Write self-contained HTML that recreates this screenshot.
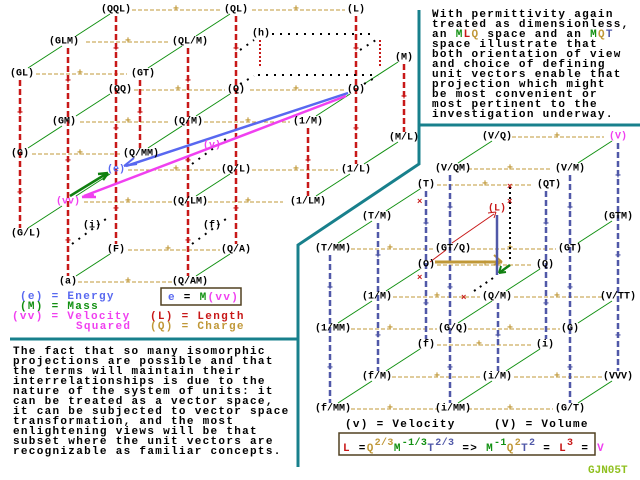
<!DOCTYPE html>
<html><head><meta charset="utf-8"><style>
html,body{margin:0;padding:0;background:#fff;width:640px;height:480px;overflow:hidden}
svg{display:block}
text{font-family:"Liberation Mono",monospace;font-weight:bold}
.n{font-size:10px;fill:#000;text-anchor:middle;dominant-baseline:central}
.p{font-size:11px;fill:#000;letter-spacing:1.3px}
.sup{font-size:10px;letter-spacing:0.4px}
.tan{stroke:#c09838;stroke-width:1;stroke-dasharray:4 2;fill:none}
.red{stroke:#c81818;stroke-width:2.5;stroke-dasharray:6 3;fill:none}
.blu{stroke:#5058a8;stroke-width:2.5;stroke-dasharray:6 3;fill:none}
.grn{stroke:#109010;stroke-width:1;fill:none}
.dot{stroke:#000;stroke-width:2;stroke-dasharray:2 6;fill:none}
.teal{stroke:#18808c;stroke-width:3;fill:none}
.pr{fill:#c81818;font-size:10px;text-anchor:middle;dominant-baseline:central}
.pt{fill:#c09838;font-size:10px;text-anchor:middle;dominant-baseline:central}
.pb{fill:#5058a8;font-size:10px;text-anchor:middle;dominant-baseline:central}
</style></head><body>
<svg width="640" height="480" viewBox="0 0 640 480">
<polyline class="teal" points="419,10 419,125 640,125"/>
<polyline class="teal" points="419,125 419,164 298,245 298,467"/>
<line class="teal" x1="10" y1="339" x2="298" y2="339"/>

<g class="tan">
<line x1="132" y1="10" x2="220" y2="10"/><line x1="252" y1="10" x2="345" y2="10"/>
<line x1="86" y1="42" x2="170" y2="42"/>
<line x1="36" y1="74" x2="127" y2="74"/>
<line x1="134" y1="90" x2="225" y2="90"/><line x1="250" y1="90" x2="345" y2="90"/>
<line x1="80" y1="122" x2="170" y2="122"/><line x1="204" y1="122" x2="290" y2="122"/>
<line x1="32" y1="154" x2="122" y2="154"/>
<line x1="128" y1="170" x2="220" y2="170"/><line x1="252" y1="170" x2="338" y2="170"/>
<line x1="84" y1="202" x2="172" y2="202"/><line x1="208" y1="202" x2="283" y2="202"/>
<line x1="128" y1="250" x2="220" y2="250"/>
<line x1="78" y1="282" x2="172" y2="282"/>
</g>
<g class="pt">
<text x="176" y="10">+</text><text x="296" y="10">+</text><text x="128" y="42">+</text>
<text x="80" y="74">+</text><text x="178" y="90">+</text><text x="296" y="90">+</text>
<text x="128" y="122">+</text><text x="248" y="122">+</text><text x="80" y="154">+</text>
<text x="176" y="170">+</text><text x="296" y="170">+</text><text x="128" y="202">+</text>
<text x="248" y="202">+</text><text x="168" y="250">+</text><text x="128" y="282">+</text>
</g>
<g class="red">
<line x1="20" y1="80" x2="20" y2="228"/>
<line x1="68" y1="48" x2="68" y2="276"/>
<line x1="116" y1="16" x2="116" y2="244"/>
<line x1="140" y1="80" x2="140" y2="148"/>
<line x1="188" y1="48" x2="188" y2="276"/>
<line x1="236" y1="16" x2="236" y2="244"/>
<line x1="308" y1="128" x2="308" y2="196"/>
<line x1="356" y1="16" x2="356" y2="164"/>
<line x1="404" y1="64" x2="404" y2="132"/>
</g>
<g class="pr">
<text x="20" y="114">+</text><text x="20" y="194">+</text>
<text x="68" y="82">+</text><text x="68" y="162">+</text><text x="68" y="242">+</text>
<text x="116" y="50">+</text><text x="116" y="130">+</text><text x="116" y="210">+</text>
<text x="140" y="114">+</text>
<text x="188" y="82">+</text><text x="188" y="162">+</text><text x="188" y="242">+</text>
<text x="236" y="50">+</text><text x="236" y="210">+</text>
<text x="308" y="162">+</text><text x="356" y="50">+</text><text x="356" y="130">+</text>
<text x="404" y="98">+</text>
</g>
<g class="grn">
<line x1="28" y1="68" x2="62" y2="46"/><line x1="76" y1="36" x2="110" y2="14"/>
<line x1="28" y1="148" x2="62" y2="126"/><line x1="76" y1="116" x2="110" y2="94"/>
<line x1="28" y1="228" x2="62" y2="206"/><line x1="76" y1="196" x2="110" y2="174"/>
<line x1="76" y1="276" x2="110" y2="254"/>
<line x1="148" y1="68" x2="182" y2="46"/><line x1="196" y1="36" x2="230" y2="14"/>
<line x1="148" y1="148" x2="182" y2="126"/><line x1="196" y1="116" x2="230" y2="94"/>
<line x1="196" y1="196" x2="230" y2="174"/><line x1="196" y1="276" x2="230" y2="254"/>
<line x1="316" y1="116" x2="350" y2="94"/><line x1="316" y1="196" x2="350" y2="174"/>
<line x1="364" y1="84" x2="398" y2="62"/><line x1="364" y1="164" x2="398" y2="142"/>
</g>
<g class="dot">
<line x1="272" y1="34" x2="376" y2="34"/><line x1="258" y1="75" x2="376" y2="75"/>
<line x1="240" y1="50" x2="254" y2="40"/><line x1="360" y1="50" x2="376" y2="40"/>
<line x1="240" y1="84" x2="254" y2="76"/><line x1="364" y1="84" x2="378" y2="76"/>
<line x1="72" y1="244" x2="110" y2="216"/><line x1="192" y1="244" x2="230" y2="216"/>
<line x1="192" y1="164" x2="230" y2="136"/>
</g>
<g stroke="#c81818" stroke-width="2" stroke-dasharray="2 2">
<line x1="260" y1="40" x2="260" y2="68"/><line x1="380" y1="40" x2="380" y2="68"/>
</g>
<polyline points="348,93 126,166" stroke="#5868f0" stroke-width="2.5" fill="none"/>
<path d="M124,166 l10,-8 M124,166 l13,-2" stroke="#5868f0" stroke-width="2" fill="none"/>
<line x1="346" y1="96" x2="84" y2="196" stroke="#f040f0" stroke-width="2.5"/>
<path d="M82,197 l12,-2 M82,197 l14,0" stroke="#f040f0" stroke-width="2.5" fill="none"/>
<line x1="70" y1="196" x2="106" y2="174" stroke="#108010" stroke-width="2.5"/>
<path d="M108,173 l-10,1 M108,173 l-5,7" stroke="#108010" stroke-width="2.5" fill="none"/>

<g class="n">
<text x="116" y="10">(QQL)</text><text x="236" y="10">(QL)</text><text x="356" y="10">(L)</text>
<text x="64" y="42">(GLM)</text><text x="190" y="42">(QL/M)</text>
<text x="22" y="74">(GL)</text><text x="143" y="74">(GT)</text>
<text x="120" y="90">(QQ)</text><text x="236" y="90">(Q)</text><text x="356" y="90">(O)</text>
<text x="64" y="122">(GM)</text><text x="188" y="122">(Q/M)</text><text x="308" y="122">(1/M)</text>
<text x="20" y="154">(G)</text><text x="141" y="154">(Q/MM)</text>
<text x="236" y="170">(Q/L)</text><text x="356" y="170">(1/L)</text>
<text x="190" y="202">(Q/LM)</text><text x="308" y="202">(1/LM)</text>
<text x="26" y="234">(G/L)</text>
<text x="116" y="250">(F)</text><text x="236" y="250">(Q/A)</text>
<text x="68" y="282">(a)</text><text x="190" y="282">(Q/AM)</text>
<text x="404" y="58">(M)</text><text x="404" y="138">(M/L)</text>
<text x="261" y="34">(h)</text><text x="92" y="226">(i)</text><text x="212" y="226">(f)</text>
<text x="116" y="170" style="fill:#5868f0">(e)</text>
<text x="68" y="202" style="fill:#f040f0">(vv)</text>
<text x="212" y="146" style="fill:#f040f0">(v)</text>
</g>

<g class="p">
<text x="20" y="299" fill="#5868f0">(e) = Energy</text>
<text x="20" y="309" fill="#109010">(M) = Mass</text>
<text x="12" y="319" fill="#f040f0">(vv) = Velocity</text>
<text x="76" y="329" fill="#f040f0">Squared</text>
<text x="150" y="319" fill="#c81818">(L) = Length</text>
<text x="150" y="329" fill="#c09838">(Q) = Charge</text>
</g>
<rect x="161" y="288" width="80" height="17" fill="none" stroke="#504020" stroke-width="1.5"/>
<text class="p" x="168" y="300"><tspan fill="#5868f0">e</tspan> = <tspan fill="#109010">M</tspan><tspan fill="#f040f0">(vv)</tspan></text>

<g class="p">
<text x="13" y="354">The fact that so many isomorphic</text>
<text x="13" y="364">projections are possible and that</text>
<text x="13" y="374">the terms will maintain their</text>
<text x="13" y="384">interrelationships is due to the</text>
<text x="13" y="394">nature of the system of units: it</text>
<text x="13" y="404">can be treated as a vector space,</text>
<text x="13" y="414">it can be subjected to vector space</text>
<text x="13" y="424">transformation, and the most</text>
<text x="13" y="434">enlightening views will be that</text>
<text x="13" y="444">subset where the unit vectors are</text>
<text x="13" y="454">recognizable as familiar concepts.</text>
</g>
<g class="p">
<text x="432" y="17">With permittivity again</text>
<text x="432" y="27">treated as dimensionless,</text>
<text x="432" y="37">an <tspan fill="#109010">M</tspan><tspan fill="#c81818">L</tspan><tspan fill="#c09838">Q</tspan> space and an <tspan fill="#109010">M</tspan><tspan fill="#c09838">Q</tspan><tspan fill="#5058a8">T</tspan></text>
<text x="432" y="47">space illustrate that</text>
<text x="432" y="57">both orientation of view</text>
<text x="432" y="67">and choice of defining</text>
<text x="432" y="77">unit vectors enable that</text>
<text x="432" y="87">projection which might</text>
<text x="432" y="97">be most convenient or</text>
<text x="432" y="107">most pertinent to the</text>
<text x="432" y="117">investigation underway.</text>
</g>

<g class="tan">
<line x1="512" y1="137" x2="604" y2="137"/>
<line x1="468" y1="169" x2="552" y2="169"/>
<line x1="437" y1="185" x2="532" y2="185"/>
<line x1="351" y1="249" x2="434" y2="249"/><line x1="471" y1="249" x2="556" y2="249"/>
<line x1="437" y1="265" x2="531" y2="265"/>
<line x1="393" y1="297" x2="480" y2="297"/><line x1="514" y1="297" x2="602" y2="297"/>
<line x1="351" y1="329" x2="437" y2="329"/><line x1="468" y1="329" x2="560" y2="329"/>
<line x1="437" y1="345" x2="532" y2="345"/>
<line x1="392" y1="377" x2="480" y2="377"/><line x1="514" y1="377" x2="604" y2="377"/>
<line x1="351" y1="409" x2="437" y2="409"/><line x1="468" y1="409" x2="553" y2="409"/>
</g>
<g class="pt">
<text x="557" y="137">+</text><text x="510" y="169">+</text><text x="485" y="185">+</text>
<text x="390" y="249">+</text><text x="510" y="249">+</text><text x="485" y="265">+</text>
<text x="437" y="297">+</text><text x="557" y="297">+</text>
<text x="390" y="329">+</text><text x="510" y="329">+</text><text x="479" y="345">+</text>
<text x="437" y="377">+</text><text x="557" y="377">+</text>
<text x="390" y="409">+</text><text x="510" y="409">+</text>
</g>
<g class="blu">
<line x1="330" y1="255" x2="330" y2="403"/>
<line x1="378" y1="223" x2="378" y2="371"/>
<line x1="426" y1="191" x2="426" y2="339"/>
<line x1="450" y1="175" x2="450" y2="403"/>
<line x1="498" y1="303" x2="498" y2="371"/>
<line x1="546" y1="191" x2="546" y2="339"/>
<line x1="570" y1="175" x2="570" y2="403"/>
<line x1="618" y1="143" x2="618" y2="371"/>
</g>
<g class="pb">
<text x="330" y="289">+</text><text x="330" y="369">+</text>
<text x="378" y="257">+</text><text x="378" y="337">+</text>
<text x="426" y="225">+</text><text x="426" y="305">+</text>
<text x="450" y="209">+</text><text x="450" y="289">+</text><text x="450" y="369">+</text>
<text x="498" y="337">+</text>
<text x="546" y="225">+</text><text x="546" y="305">+</text>
<text x="570" y="209">+</text><text x="570" y="289">+</text><text x="570" y="369">+</text>
<text x="618" y="177">+</text><text x="618" y="257">+</text><text x="618" y="337">+</text>
</g>
<g class="grn">
<line x1="338" y1="243" x2="372" y2="221"/><line x1="338" y1="323" x2="372" y2="301"/>
<line x1="338" y1="403" x2="372" y2="381"/>
<line x1="458" y1="163" x2="492" y2="141"/><line x1="458" y1="323" x2="492" y2="301"/>
<line x1="458" y1="403" x2="492" y2="381"/>
<line x1="578" y1="163" x2="612" y2="141"/><line x1="578" y1="243" x2="612" y2="221"/>
<line x1="578" y1="323" x2="612" y2="301"/><line x1="578" y1="403" x2="612" y2="381"/>
<line x1="386" y1="211" x2="420" y2="189"/><line x1="386" y1="291" x2="420" y2="269"/>
<line x1="386" y1="371" x2="420" y2="349"/>
<line x1="506" y1="291" x2="540" y2="269"/><line x1="506" y1="371" x2="540" y2="349"/>
</g>
<line x1="452" y1="243" x2="494" y2="214" stroke="#c81818" stroke-width="1"/>
<line x1="430" y1="262" x2="446" y2="250" stroke="#c81818" stroke-width="1"/>
<path d="M496,212 l-8,1 M496,212 l-2,6" stroke="#c81818" stroke-width="1" fill="none"/>
<line x1="510" y1="187" x2="510" y2="260" stroke="#000" stroke-width="2" stroke-dasharray="2 3"/>
<g fill="#c81818" font-size="9"><text x="507" y="189">×</text><text x="507" y="204">×</text><text x="417" y="204">×</text><text x="417" y="280">×</text><text x="461" y="300">×</text></g>
<line x1="435" y1="262" x2="502" y2="262" stroke="#c09838" stroke-width="3"/>
<path d="M502,262 l-8,-7 M502,262 l-8,3" stroke="#c09838" stroke-width="2" fill="none"/>
<line x1="497" y1="275" x2="497" y2="215" stroke="#5058a8" stroke-width="2.5"/>
<line x1="510" y1="265" x2="499" y2="273" stroke="#108010" stroke-width="2.5"/>
<path d="M499,273 l2,-7 M499,273 l7,-1" stroke="#108010" stroke-width="2" fill="none"/>
<g class="dot"><line x1="474" y1="291" x2="496" y2="276" stroke-dasharray="2 5"/></g>

<g class="n">
<text x="497" y="137">(V/Q)</text><text x="618" y="137" style="fill:#f040f0">(V)</text>
<text x="453" y="169">(V/QM)</text><text x="570" y="169">(V/M)</text>
<text x="426" y="185">(T)</text><text x="549" y="185">(QT)</text>
<text x="377" y="217">(T/M)</text><text x="618" y="217">(GTM)</text>
<text x="497" y="209" style="fill:#c81818">(L)</text>
<text x="333" y="249">(T/MM)</text><text x="453" y="249">(GT/Q)</text><text x="570" y="249">(GT)</text>
<text x="426" y="265">(O)</text><text x="545" y="265">(Q)</text>
<text x="377" y="297">(1/M)</text><text x="497" y="297">(Q/M)</text><text x="618" y="297">(V/TT)</text>
<text x="333" y="329">(1/MM)</text><text x="453" y="329">(G/Q)</text><text x="570" y="329">(G)</text>
<text x="426" y="345">(f)</text><text x="545" y="345">(i)</text>
<text x="377" y="377">(f/M)</text><text x="497" y="377">(i/M)</text><text x="618" y="377">(VVV)</text>
<text x="333" y="409">(f/MM)</text><text x="453" y="409">(i/MM)</text><text x="570" y="409">(G/T)</text>
</g>
<text class="p" x="345" y="427">(v) = Velocity</text>
<text class="p" x="494" y="427" fill="#f040f0">(V) = Volume</text>
<rect x="339" y="433" width="256" height="22" fill="none" stroke="#504020" stroke-width="1.5"/>
<text class="p" x="343" y="451"><tspan fill="#c81818">L</tspan> =<tspan fill="#c09838">Q</tspan><tspan class="sup" fill="#c09838" dy="-6">2/3</tspan><tspan fill="#109010" dy="6">M</tspan><tspan class="sup" fill="#109010" dy="-6">-1/3</tspan><tspan fill="#5058a8" dy="6">T</tspan><tspan class="sup" fill="#5058a8" dy="-6">2/3</tspan><tspan dy="6"> =&gt; </tspan><tspan fill="#109010">M</tspan><tspan class="sup" fill="#109010" dy="-6">-1</tspan><tspan fill="#c09838" dy="6">Q</tspan><tspan class="sup" fill="#c09838" dy="-6">2</tspan><tspan fill="#5058a8" dy="6">T</tspan><tspan class="sup" fill="#5058a8" dy="-6">2</tspan><tspan dy="6"> = </tspan><tspan fill="#c81818">L</tspan><tspan class="sup" fill="#c81818" dy="-6">3</tspan><tspan dy="6"> = </tspan><tspan fill="#f040f0">V</tspan></text>
<text x="588" y="473" font-size="11" fill="#90c020">GJN05T</text>
</svg>
</body></html>
